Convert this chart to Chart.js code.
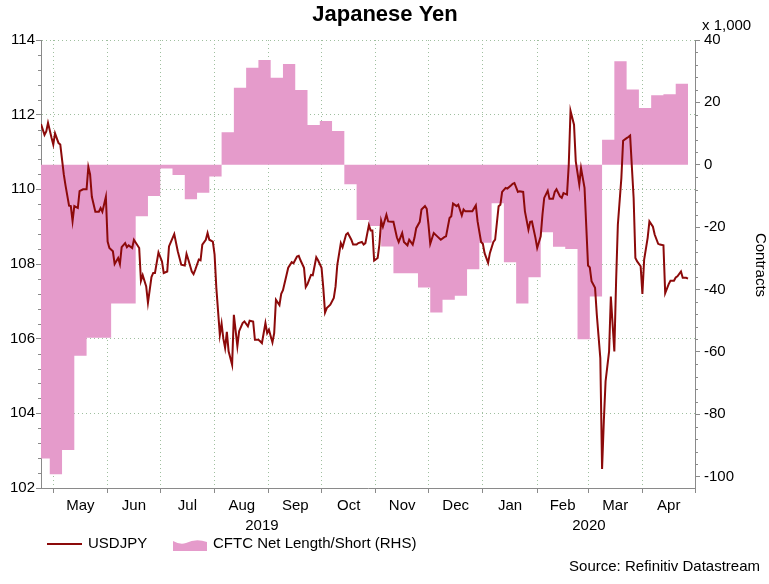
<!DOCTYPE html>
<html>
<head>
<meta charset="utf-8">
<title>Japanese Yen</title>
<script src="https://cdn.jsdelivr.net/npm/chart.js@4.4.1/dist/chart.umd.min.js"></script>
<style>
  html, body { margin: 0; padding: 0; background: #fff; }
  #wrap { width: 769px; height: 584px; position: relative; }
</style>
</head>
<body>
<div id="wrap"><canvas id="yen_chart"></canvas></div>
<script>
// USDJPY (left axis), daily
const usdjpyDates = [
    '2019-04-24', '2019-04-26', '2019-04-27', '2019-04-28', '2019-04-30', '2019-05-01', '2019-05-02', '2019-05-04',
    '2019-05-05', '2019-05-07', '2019-05-08', '2019-05-10', '2019-05-11', '2019-05-12', '2019-05-13', '2019-05-15',
    '2019-05-16', '2019-05-18', '2019-05-20', '2019-05-21', '2019-05-22', '2019-05-23', '2019-05-25', '2019-05-27',
    '2019-05-28', '2019-05-29', '2019-05-31', '2019-06-01', '2019-06-02', '2019-06-04', '2019-06-05', '2019-06-07',
    '2019-06-08', '2019-06-09', '2019-06-11', '2019-06-12', '2019-06-13', '2019-06-15', '2019-06-16', '2019-06-19',
    '2019-06-20', '2019-06-21', '2019-06-23', '2019-06-24', '2019-06-26', '2019-06-27', '2019-06-28', '2019-06-30',
    '2019-07-02', '2019-07-03', '2019-07-05', '2019-07-06', '2019-07-09', '2019-07-11', '2019-07-13', '2019-07-15',
    '2019-07-16', '2019-07-17', '2019-07-19', '2019-07-20', '2019-07-21', '2019-07-23', '2019-07-24', '2019-07-25',
    '2019-07-27', '2019-07-28', '2019-07-29', '2019-07-31', '2019-08-01', '2019-08-02', '2019-08-03', '2019-08-04',
    '2019-08-05', '2019-08-06', '2019-08-07', '2019-08-08', '2019-08-09', '2019-08-10', '2019-08-11', '2019-08-12',
    '2019-08-14', '2019-08-15', '2019-08-17', '2019-08-18', '2019-08-20', '2019-08-21', '2019-08-23', '2019-08-24',
    '2019-08-26', '2019-08-27', '2019-08-28', '2019-08-30', '2019-08-31', '2019-09-01', '2019-09-03', '2019-09-04',
    '2019-09-05', '2019-09-07', '2019-09-08', '2019-09-09', '2019-09-11', '2019-09-12', '2019-09-14', '2019-09-15',
    '2019-09-17', '2019-09-18', '2019-09-19', '2019-09-21', '2019-09-22', '2019-09-23', '2019-09-25', '2019-09-26',
    '2019-09-28', '2019-09-29', '2019-10-01', '2019-10-02', '2019-10-03', '2019-10-04', '2019-10-06', '2019-10-08',
    '2019-10-09', '2019-10-10', '2019-10-12', '2019-10-13', '2019-10-15', '2019-10-16', '2019-10-18', '2019-10-19',
    '2019-10-21', '2019-10-22', '2019-10-24', '2019-10-25', '2019-10-26', '2019-10-28', '2019-10-29', '2019-10-30',
    '2019-10-31', '2019-11-02', '2019-11-03', '2019-11-04', '2019-11-05', '2019-11-07', '2019-11-08', '2019-11-10',
    '2019-11-11', '2019-11-13', '2019-11-14', '2019-11-16', '2019-11-17', '2019-11-19', '2019-11-20', '2019-11-22',
    '2019-11-23', '2019-11-24', '2019-11-26', '2019-11-27', '2019-11-29', '2019-11-30', '2019-12-01', '2019-12-02',
    '2019-12-04', '2019-12-06', '2019-12-08', '2019-12-10', '2019-12-11', '2019-12-13', '2019-12-14', '2019-12-15',
    '2019-12-17', '2019-12-18', '2019-12-20', '2019-12-21', '2019-12-22', '2019-12-24', '2019-12-26', '2019-12-28',
    '2019-12-29', '2019-12-31', '2020-01-01', '2020-01-02', '2020-01-04', '2020-01-05', '2020-01-07', '2020-01-08',
    '2020-01-10', '2020-01-11', '2020-01-12', '2020-01-14', '2020-01-15', '2020-01-17', '2020-01-18', '2020-01-19',
    '2020-01-21', '2020-01-22', '2020-01-24', '2020-01-25', '2020-01-27', '2020-01-28', '2020-01-29', '2020-01-31',
    '2020-02-01', '2020-02-03', '2020-02-04', '2020-02-05', '2020-02-07', '2020-02-08', '2020-02-10', '2020-02-11',
    '2020-02-12', '2020-02-14', '2020-02-15', '2020-02-16', '2020-02-18', '2020-02-19', '2020-02-20', '2020-02-22',
    '2020-02-23', '2020-02-25', '2020-02-26', '2020-02-28', '2020-03-01', '2020-03-02', '2020-03-03', '2020-03-05',
    '2020-03-06', '2020-03-08', '2020-03-09', '2020-03-10', '2020-03-11', '2020-03-13', '2020-03-14', '2020-03-16',
    '2020-03-17', '2020-03-18', '2020-03-20', '2020-03-21', '2020-03-23', '2020-03-24', '2020-03-25', '2020-03-27',
    '2020-03-28', '2020-03-29', '2020-03-31', '2020-04-01', '2020-04-02', '2020-04-04', '2020-04-05', '2020-04-07',
    '2020-04-08', '2020-04-10', '2020-04-11', '2020-04-13', '2020-04-14', '2020-04-16', '2020-04-17', '2020-04-19',
    '2020-04-20', '2020-04-21', '2020-04-23', '2020-04-24', '2020-04-26', '2020-04-27'
];
const usdjpyValues = [
    111.75, 111.46, 111.55, 111.78, 111.38, 111.2, 111.5, 111.24,
    111.2, 110.4, 110.1, 109.56, 109.55, 109.15, 109.55, 109.5,
    109.95, 110.0, 110.0, 110.6, 110.4, 109.8, 109.4, 109.4,
    109.5, 109.4, 109.8, 108.6, 108.43, 108.34, 108.0, 108.16,
    108.0, 108.45, 108.56, 108.45, 108.5, 108.43, 108.65, 108.43,
    107.55, 107.7, 107.4, 106.96, 107.65, 107.76, 107.76, 108.31,
    108.07, 107.76, 107.8, 108.47, 108.8, 108.34, 107.98, 107.96,
    108.27, 108.12, 107.8, 107.73, 107.85, 108.12, 108.1, 108.52,
    108.65, 108.83, 108.65, 108.6, 108.25, 107.36, 106.73, 106.1,
    106.4, 106.0, 105.75, 106.18, 105.66, 105.48, 105.3, 106.64,
    105.8, 106.2, 106.42, 106.46, 106.33, 106.48, 106.46, 105.97,
    105.97, 105.93, 105.88, 106.42, 106.15, 106.24, 105.9, 106.15,
    107.04, 106.9, 107.2, 107.3, 107.7, 107.9, 108.05, 108.02,
    108.2, 108.22, 108.1, 107.9, 107.38, 107.46, 107.71, 107.7,
    108.18, 108.1, 107.9, 107.36, 106.7, 106.82, 106.91, 107.09,
    107.4, 107.98, 108.56, 108.45, 108.79, 108.83, 108.65, 108.52,
    108.52, 108.56, 108.59, 108.52, 108.56, 109.04, 108.9, 108.9,
    108.09, 108.16, 108.52, 109.16, 109.0, 109.32, 109.14, 109.13,
    109.13, 108.71, 108.59, 108.83, 108.59, 108.5, 108.65, 108.52,
    108.7, 108.96, 109.13, 109.46, 109.55, 109.48, 109.05, 108.54,
    108.83, 108.74, 108.65, 108.72, 108.74, 109.23, 109.28, 109.62,
    109.55, 109.59, 109.3, 109.46, 109.41, 109.41, 109.41, 109.57,
    109.14, 108.59, 108.54, 108.29, 108.03, 108.29, 108.59, 108.65,
    109.55, 109.59, 109.93, 110.04, 110.02, 110.1, 110.15, 110.17,
    109.93, 109.95, 109.93, 109.41, 108.92, 109.13, 109.14, 108.7,
    108.43, 108.74, 109.32, 109.77, 109.96, 109.75, 109.75, 109.93,
    110.0, 109.81, 109.77, 109.9, 109.86, 110.66, 112.1, 111.73,
    110.75, 110.13, 110.57, 110.04, 107.96, 107.91, 107.54, 107.36,
    106.64, 105.48, 102.51, 103.79, 104.86, 105.66, 107.13, 105.66,
    107.54, 109.05, 110.3, 111.3, 111.37, 111.4, 111.44, 109.77,
    108.16, 108.07, 107.94, 107.2, 108.12, 108.7, 109.14, 109.0,
    108.79, 108.54, 108.52, 108.5, 107.22, 107.46, 107.55, 107.55,
    107.64, 107.67, 107.8, 107.63, 107.63, 107.61
];

// CFTC net length/short (right axis, x 1,000 contracts), weekly
const cftcWeeks = [
    '2019-04-22', '2019-04-29', '2019-05-06', '2019-05-13', '2019-05-20', '2019-05-27', '2019-06-03', '2019-06-10',
    '2019-06-17', '2019-06-24', '2019-07-01', '2019-07-08', '2019-07-15', '2019-07-22', '2019-07-29', '2019-08-05',
    '2019-08-12', '2019-08-19', '2019-08-26', '2019-09-02', '2019-09-09', '2019-09-16', '2019-09-23', '2019-09-30',
    '2019-10-07', '2019-10-14', '2019-10-21', '2019-10-28', '2019-11-04', '2019-11-11', '2019-11-18', '2019-11-25',
    '2019-12-02', '2019-12-09', '2019-12-16', '2019-12-23', '2019-12-30', '2020-01-06', '2020-01-13', '2020-01-20',
    '2020-01-27', '2020-02-03', '2020-02-10', '2020-02-17', '2020-02-24', '2020-03-02', '2020-03-09', '2020-03-16',
    '2020-03-23', '2020-03-30', '2020-04-06', '2020-04-13', '2020-04-20'
];
const cftcValues = [
    -94.2, -99.3, -91.5, -61.3, -55.5, -55.5, -44.5, -44.5,
    -16.5, -10.0, -1.2, -3.3, -11.1, -9.0, -3.8, 10.4,
    24.7, 31.1, 33.6, 27.9, 32.3, 24.0, 12.7, 14.0,
    10.8, -6.3, -17.7, -19.7, -26.2, -34.8, -34.8, -39.4,
    -47.4, -43.3, -42.0, -33.5, -25.0, -12.4, -31.3, -44.5,
    -36.1, -21.7, -26.3, -27.0, -56.0, -42.3, 8.0, 33.2,
    24.1, 18.2, 22.3, 22.6, 26.0
];

const monthNames = ['Jan', 'Feb', 'Mar', 'Apr', 'May', 'Jun', 'Jul', 'Aug', 'Sep', 'Oct', 'Nov', 'Dec'];
const yenTicks = [102, 104, 106, 108, 110, 112, 114];
const contractTicks = [-100, -80, -60, -40, -20, 0, 20, 40];
const xStart = '2019-04-24';
const xEnd = '2020-05-01';

const base = Date.UTC(2019, 4, 1);
function dayOf(str) {
    const p = str.split('-').map(Number);
    return (Date.UTC(p[0], p[1] - 1, p[2]) - base) / 86400000;
}

const xMin = dayOf(xStart);
const xMax = dayOf(xEnd);

// month boundaries, month labels in between, year labels under them
const xTicks = [];
(() => {
    const first = new Date(xStart + 'T00:00:00Z');
    let y = first.getUTCFullYear(), m = first.getUTCMonth() + 1;
    const starts = [];
    while (true) {
        const d = (Date.UTC(y, m, 1) - base) / 86400000;
        if (d > xMax) break;
        starts.push({ d: d, m: m, y: y });
        m++;
        if (m > 11) { m = 0; y++; }
    }
    for (let i = 0; i < starts.length; i++) {
        xTicks.push({ value: starts[i].d, kind: 'b', label: '' });
        if (i < starts.length - 1) {
            xTicks.push({ value: (starts[i].d + starts[i + 1].d) / 2, kind: 'm', label: monthNames[starts[i].m] });
        }
    }
    const y0 = new Date(xStart + 'T00:00:00Z').getUTCFullYear();
    const y1 = new Date(xEnd + 'T00:00:00Z').getUTCFullYear();
    for (let yr = y0; yr <= y1; yr++) {
        const a = Math.max(xMin, (Date.UTC(yr, 0, 1) - base) / 86400000);
        const b = Math.min(xMax, (Date.UTC(yr + 1, 0, 1) - base) / 86400000);
        if (b - a > 20) xTicks.push({ value: (a + b) / 2, kind: 'y', label: ['', String(yr)] });
    }
    xTicks.sort((p, q) => p.value - q.value);
})();

const usdjpyPoints = usdjpyDates.map((d, i) => ({ x: dayOf(d), y: usdjpyValues[i] }));
const cftcPoints = cftcWeeks.map((d, i) => ({ x: dayOf(d), y: cftcValues[i] }));
// hold the last week to its end
cftcPoints.push({ x: dayOf(cftcWeeks[cftcWeeks.length - 1]) + 7, y: cftcValues[cftcValues.length - 1] });

const lineRed = '#8c0a0a';
const pink = '#e59bcb';
const axisGrey = '#8a8a8a';
const gridColor = '#9fbf9f';
const FONT = '"Liberation Sans", Arial, sans-serif';

Chart.defaults.font.family = FONT;
Chart.defaults.font.size = 15;
Chart.defaults.color = '#000';

const extras = {
    id: 'extras',
    afterDraw(chart) {
        const ctx = chart.ctx;
        const yl = chart.scales.y, yr = chart.scales.y1;
        ctx.save();
        // minor ticks
        ctx.strokeStyle = axisGrey;
        ctx.lineWidth = 1;
        ctx.beginPath();
        for (let k = 0; k <= 30; k++) {
            if (k % 5 === 0) continue;
            const py = Math.round(yl.getPixelForValue(102 + k * 0.4)) + 0.5;
            ctx.moveTo(yl.right - 3, py);
            ctx.lineTo(yl.right, py);
        }
        for (let v = -100; v <= 40; v += 4) {
            if (v % 20 === 0) continue;
            const py = Math.round(yr.getPixelForValue(v)) + 0.5;
            ctx.moveTo(yr.left, py);
            ctx.lineTo(yr.left + 3, py);
        }
        ctx.stroke();

        ctx.fillStyle = '#000';
        ctx.font = 'bold 22px ' + FONT;
        ctx.textAlign = 'center';
        ctx.textBaseline = 'alphabetic';
        ctx.fillText('Japanese Yen', 385, 21);

        ctx.font = '15px ' + FONT;
        ctx.textAlign = 'left';
        ctx.fillText('x 1,000', 702, 30);

        ctx.save();
        ctx.translate(760, 265);
        ctx.rotate(Math.PI / 2);
        ctx.textAlign = 'center';
        ctx.textBaseline = 'middle';
        ctx.fillText('Contracts', 0, 0);
        ctx.restore();

        // legend
        ctx.strokeStyle = lineRed;
        ctx.lineWidth = 2;
        ctx.beginPath();
        ctx.moveTo(47, 544);
        ctx.lineTo(82, 544);
        ctx.stroke();
        ctx.textBaseline = 'middle';
        ctx.fillText('USDJPY', 88, 544);

        ctx.fillStyle = pink;
        ctx.beginPath();
        ctx.moveTo(173, 551);
        ctx.lineTo(173, 541);
        ctx.quadraticCurveTo(180, 545, 186, 543);
        ctx.quadraticCurveTo(196, 538, 207, 542);
        ctx.lineTo(207, 551);
        ctx.closePath();
        ctx.fill();
        ctx.fillStyle = '#000';
        ctx.fillText('CFTC Net Length/Short (RHS)', 213, 544);

        ctx.textAlign = 'right';
        ctx.fillText('Source: Refinitiv Datastream', 760, 567);
        ctx.restore();
    }
};

const ctx = document.getElementById('yen_chart').getContext('2d');
const yenChart = new Chart(ctx, {
    type: 'line',
    data: {
        datasets: [{
            label: 'USDJPY',
            data: usdjpyPoints,
            yAxisID: 'y',
            borderColor: lineRed,
            borderWidth: 2,
            pointRadius: 0,
            tension: 0,
            fill: false
        }, {
            label: 'CFTC Net Length/Short (RHS)',
            data: cftcPoints,
            yAxisID: 'y1',
            borderWidth: 0,
            borderColor: 'rgba(0,0,0,0)',
            backgroundColor: pink,
            pointRadius: 0,
            stepped: 'before',
            fill: 'origin'
        }]
    },
    options: {
        responsive: true,
        maintainAspectRatio: false,
        animation: false,
        events: [],
        layout: { padding: { top: 40, left: 0, right: 0, bottom: 0 } },
        plugins: {
            legend: { display: false },
            title: { display: false },
            tooltip: { enabled: false }
        },
        scales: {
            x: {
                type: 'linear',
                min: xMin,
                max: xMax,
                afterBuildTicks: (scale) => { scale.ticks = xTicks.map(t => Object.assign({}, t)); },
                afterFit: (scale) => { scale.height = 96; },
                ticks: {
                    autoSkip: false,
                    maxRotation: 0,
                    minRotation: 0,
                    padding: 3,
                    font: { size: 15, lineHeight: 1.34 },
                    callback: (value, index, ticks) => ticks[index].label
                },
                grid: {
                    color: (c) => (c.tick && c.tick.kind === 'b') ? gridColor : 'rgba(0,0,0,0)',
                    tickColor: (c) => (c.tick && c.tick.kind === 'b') ? axisGrey : 'rgba(0,0,0,0)',
                    tickLength: 5
                },
                border: { color: axisGrey, dash: [1, 3] }
            },
            y: {
                position: 'left',
                min: 102,
                max: 114,
                afterBuildTicks: (scale) => { scale.ticks = yenTicks.map(v => ({ value: v })); },
                afterFit: (scale) => { scale.width = 41; },
                ticks: { padding: 1, font: { size: 15 } },
                grid: { color: gridColor, tickColor: axisGrey, tickLength: 5 },
                border: { color: axisGrey, dash: [1, 3] }
            },
            y1: {
                position: 'right',
                min: -103.7,
                max: 40,
                afterBuildTicks: (scale) => { scale.ticks = contractTicks.map(v => ({ value: v })); },
                afterFit: (scale) => { scale.width = 74; },
                ticks: { padding: 4, font: { size: 15 } },
                grid: { drawOnChartArea: false, tickColor: axisGrey, tickLength: 5 },
                border: { color: axisGrey }
            }
        }
    },
    plugins: [extras]
});
</script>
</body>
</html>
